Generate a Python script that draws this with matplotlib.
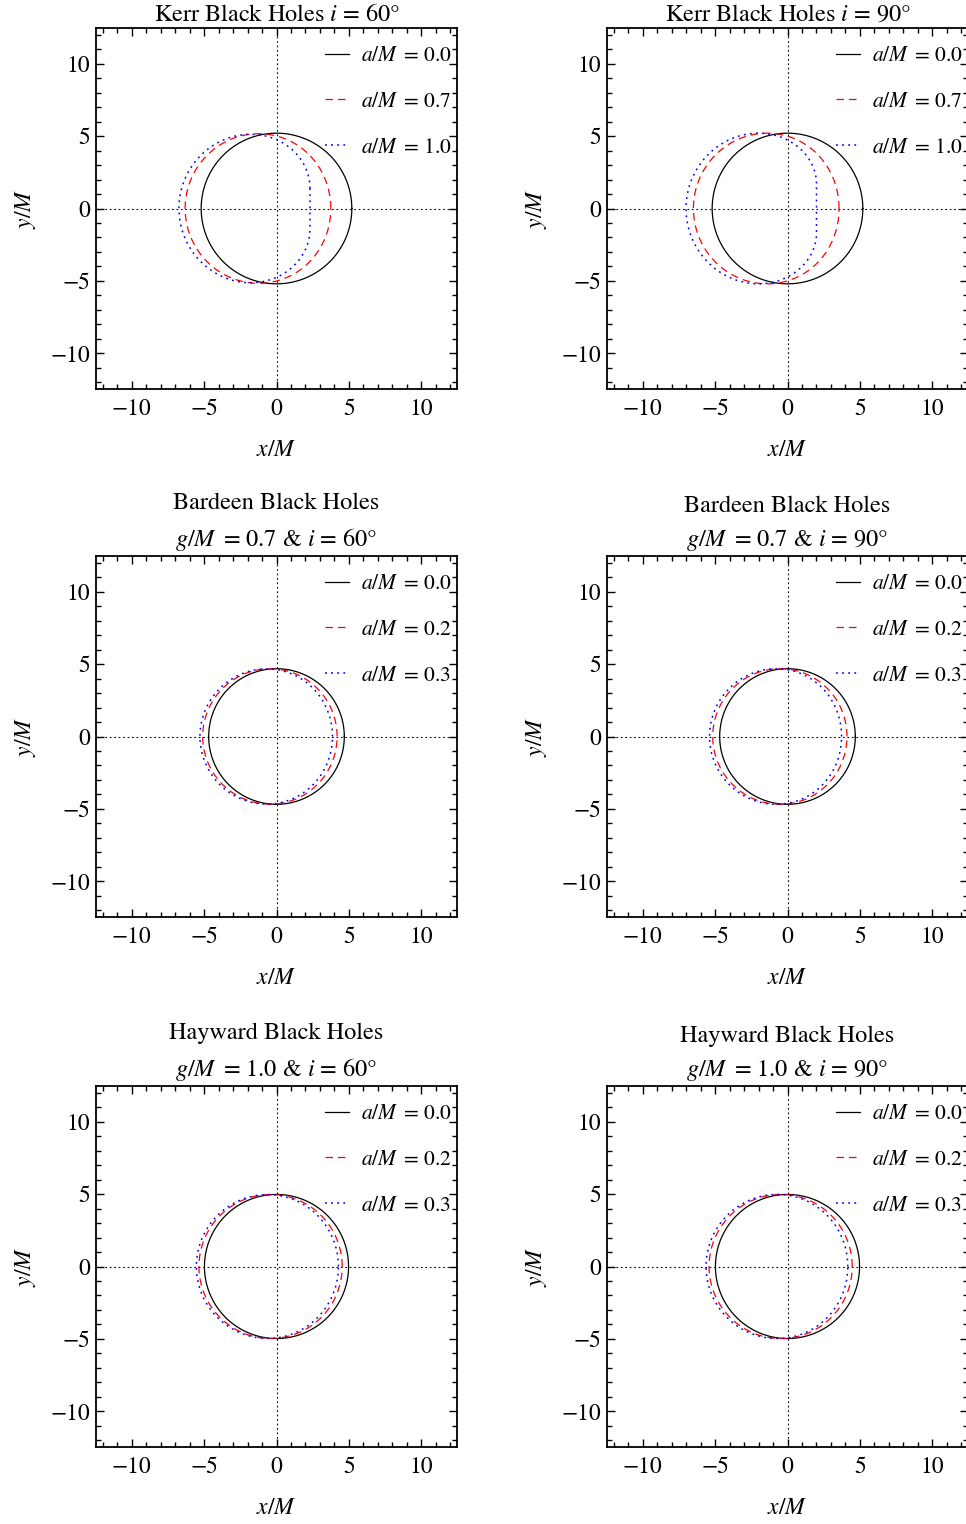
import numpy as np
import matplotlib
matplotlib.use("Agg")
import matplotlib.pyplot as plt
from matplotlib.ticker import MultipleLocator

plt.rcParams['font.family'] = ['STIXGeneral', 'DejaVu Serif']
plt.rcParams['mathtext.fontset'] = 'stix'

# Parameters
inclinations = [60, 90]          # degrees, left / right column
kerr_spins = [0.0, 0.7, 1.0]
bardeen_g = 0.7
bardeen_spins = [0.0, 0.2, 0.3]
hayward_g = 1.0
hayward_spins = [0.0, 0.2, 0.3]

rows = [
    ("Kerr", 0.0, kerr_spins),
    ("Bardeen", bardeen_g, bardeen_spins),
    ("Hayward", hayward_g, hayward_spins),
]

colors = ['black', 'red', 'blue']
styles = ['-', (0, (6, 4)), (0, (1.2, 2.8))]
widths = [0.9, 0.9, 1.1]


def mass(kind, r, g):
    if kind == "Bardeen":
        return r**3 / (r**2 + g**2)**1.5
    if kind == "Hayward":
        return r**3 / (r**3 + g**3)
    return np.ones_like(r)


def shadow(kind, g, a, inc):
    i = np.radians(inc)
    if a == 0:
        # static case: circle with critical impact parameter
        r = np.linspace(2.05, 6, 20001)
        f = 1 - 2 * mass(kind, r, g) / r
        with np.errstate(invalid='ignore', divide='ignore'):
            b = np.nanmin(np.where(f > 0, r / np.sqrt(np.abs(f)), np.nan))
        phi = np.linspace(0, 2 * np.pi, 600)
        return b * np.cos(phi), b * np.sin(phi)

    def delta(r):
        return r**2 + a**2 - 2 * mass(kind, r, g) * r

    def beta2(r):
        h = 1e-6
        d = delta(r)
        dp = (delta(r + h) - delta(r - h)) / (2 * h)
        xi = ((r**2 + a**2) * dp - 4 * r * d) / (a * dp)
        eta = 16 * r**2 * d / dp**2 - (xi - a)**2
        return xi, eta + a**2 * np.cos(i)**2 - xi**2 / np.tan(i)**2

    # outer horizon
    rr = np.linspace(0.05, 3, 59001)
    dd = delta(rr)
    sc = np.where(np.sign(dd[:-1]) != np.sign(dd[1:]))[0]
    if len(sc):
        lo, hi = rr[sc[-1]], rr[sc[-1] + 1]
        for _ in range(60):
            mid = 0.5 * (lo + hi)
            if np.sign(delta(mid)) == np.sign(delta(lo)):
                lo = mid
            else:
                hi = mid
        rh = hi
    else:
        rh = rr[np.argmin(dd)]

    grid = np.linspace(rh + 1e-5, 6, 20001)
    _, b2 = beta2(grid)
    ok = np.where(b2 >= 0)[0]

    def refine(j_in, j_out):
        p, q = grid[j_in], grid[j_out]
        for _ in range(60):
            mid = 0.5 * (p + q)
            if beta2(np.array([mid]))[1][0] >= 0:
                p = mid
            else:
                q = mid
        return p

    r_lo = grid[0] if ok[0] == 0 else refine(ok[0], ok[0] - 1)
    r_hi = refine(ok[-1], ok[-1] + 1)
    t = np.linspace(0, np.pi, 800)
    r = r_lo + (r_hi - r_lo) * (1 - np.cos(t)) / 2
    xi, b2 = beta2(r)
    alpha = xi / np.sin(i)
    beta = np.sqrt(np.clip(b2, 0, None))
    x = np.concatenate([alpha, alpha[::-1], alpha[:1]])
    y = np.concatenate([beta, -beta[::-1], beta[:1]])
    return x, y


fig = plt.figure(figsize=(9.66, 15.24), dpi=100)
W, H = 966, 1524
lefts = [96, 607]
tops = [28, 556, 1086]
size = 361

for ri, (kind, g, spins) in enumerate(rows):
    for ci, inc in enumerate(inclinations):
        ax = fig.add_axes([lefts[ci] / W, 1 - (tops[ri] + size) / H,
                           size / W, size / H])
        ax.axhline(0, color='black', ls=(0, (1.5, 2.5)), lw=0.8, zorder=1)
        ax.axvline(0, color='black', ls=(0, (1.5, 2.5)), lw=0.8, zorder=1)
        for k, a in enumerate(spins):
            x, y = shadow(kind, g, a, inc)
            ax.plot(x, y, color=colors[k], ls=styles[k], lw=widths[k],
                    label=rf'$a/M\,$ = {a:.1f}', zorder=2)
        ax.set_xlim(-12.45, 12.45)
        ax.set_ylim(-12.45, 12.45)
        ax.set_xticks([-10, -5, 0, 5, 10])
        ax.set_yticks([-10, -5, 0, 5, 10])
        ax.xaxis.set_minor_locator(MultipleLocator(1))
        ax.yaxis.set_minor_locator(MultipleLocator(1))
        ax.tick_params(which='both', direction='in', top=True, right=True,
                       labelsize=17, width=1)
        ax.tick_params(axis='x', which='both', pad=7)
        ax.tick_params(axis='y', which='both', pad=4)
        ax.tick_params(which='major', length=6)
        ax.tick_params(which='minor', length=3.5)
        for s in ax.spines.values():
            s.set_linewidth(1.3)
        ax.set_xlabel(r'$x/M$', fontsize=17, labelpad=14)
        ax.set_ylabel(r'$y/M$', fontsize=17, labelpad=9)
        if kind == "Kerr":
            title = rf'Kerr Black Holes $i$ = {inc}°'
            ax.set_title(title, fontsize=17.5, pad=5)
        else:
            title = rf'{kind} Black Holes' + '\n' + rf'$g/M\,$ = {g:.1f} & $i$ = {inc}°'
            ax.set_title(title, fontsize=17.5, pad=7, linespacing=1.6)
        ax.legend(loc='upper right', bbox_to_anchor=(1.005, 0.968),
                  frameon=False, fontsize=15.5,
                  handlelength=1.15, handletextpad=0.55, labelspacing=1.2,
                  borderaxespad=0.0, borderpad=0.3)

fig.savefig("out.png", dpi=100)
